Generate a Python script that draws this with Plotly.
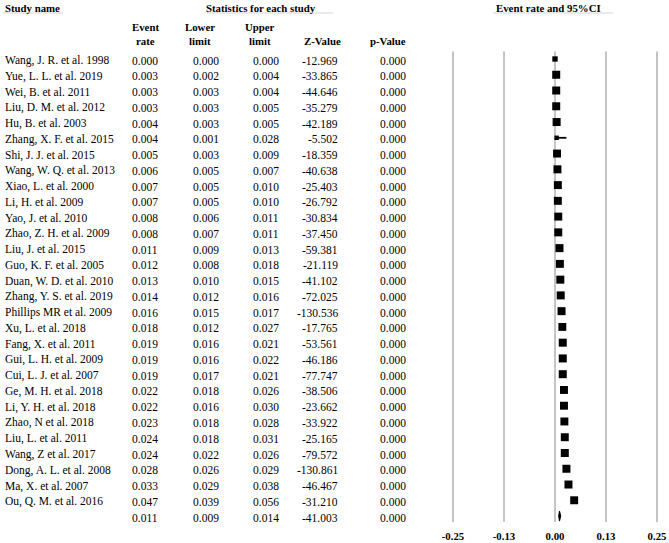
import plotly.graph_objects as go

studies = ["Wang, J. R. et al. 1998", "Yue, L. L. et al. 2019", "Wei, B. et al. 2011",
           "Liu, D. M. et al. 2012", "Hu, B. et al. 2003", "Zhang, X. F. et al. 2015",
           "Shi, J. J. et al. 2015", "Wang, W. Q. et al. 2013", "Xiao, L. et al. 2000",
           "Li, H. et al. 2009", "Yao, J. et al. 2010", "Zhao, Z. H. et al. 2009",
           "Liu, J. et al. 2015", "Guo, K. F. et al. 2005", "Duan, W. D. et al. 2010",
           "Zhang, Y. S. et al. 2019", "Phillips MR et al. 2009", "Xu, L. et al. 2018",
           "Fang, X. et al. 2011", "Gui, L. H. et al. 2009", "Cui, L. J. et al. 2007",
           "Ge, M. H. et al. 2018", "Li, Y. H. et al. 2018", "Zhao, N et al. 2018",
           "Liu, L. et al. 2011", "Wang, Z et al. 2017", "Dong, A. L. et al. 2008",
           "Ma, X. et al. 2007", "Ou, Q. M. et al. 2016"]
event_rate = [0.000, 0.003, 0.003, 0.003, 0.004, 0.004, 0.005, 0.006, 0.007, 0.007,
              0.008, 0.008, 0.011, 0.012, 0.013, 0.014, 0.016, 0.018, 0.019, 0.019,
              0.019, 0.022, 0.022, 0.023, 0.024, 0.024, 0.028, 0.033, 0.047]
lower_limit = [0.000, 0.002, 0.003, 0.003, 0.003, 0.001, 0.003, 0.005, 0.005, 0.005,
               0.006, 0.007, 0.009, 0.008, 0.010, 0.012, 0.015, 0.012, 0.016, 0.016,
               0.017, 0.018, 0.016, 0.018, 0.018, 0.022, 0.026, 0.029, 0.039]
upper_limit = [0.000, 0.004, 0.004, 0.005, 0.005, 0.028, 0.009, 0.007, 0.010, 0.010,
               0.011, 0.011, 0.013, 0.018, 0.015, 0.016, 0.017, 0.027, 0.021, 0.022,
               0.021, 0.026, 0.030, 0.028, 0.031, 0.026, 0.029, 0.038, 0.056]
z_value = [-12.969, -33.865, -44.646, -35.279, -42.189, -5.502, -18.359, -40.638, -25.403,
           -26.792, -30.834, -37.450, -59.381, -21.119, -41.102, -72.025, -130.536, -17.765,
           -53.561, -46.186, -77.747, -38.506, -23.662, -33.922, -25.165, -79.572, -130.861,
           -46.467, -31.210]
p_value = [0.000] * 29
rel_weight = [1.6, 3.55, 3.55, 3.55, 3.55, 1.1, 3.5, 3.55, 3.5, 3.5,
              3.5, 3.55, 3.55, 3.5, 3.55, 3.55, 3.55, 3.45, 3.55, 3.55,
              3.55, 3.5, 3.5, 3.5, 3.5, 3.55, 3.55, 3.55, 3.5]
summary = {"rate": 0.011, "lower": 0.009, "upper": 0.014, "z": -41.003, "p": 0.000}
tick_vals = [-0.25, -0.125, 0.0, 0.125, 0.25]
tick_text = ["-0.25", "-0.13", "0.00", "0.13", "0.25"]

W, H = 669, 543
FONT = "Liberation Serif, Times New Roman, serif"
ROW0, STEP = 59.0, 15.76       # pixel y of first row centre, row spacing
PLOT_BOTTOM = 522
X0_PX, PX_PER_UNIT = 555.0, 408.0
DOM_LEFT = 440
HDR_SIZE = 10.8

n = len(studies)
rows = list(range(n))
sum_row = n

def px_to_row(py):
    return (py - ROW0) / STEP

fig = go.Figure()

sizes = [8 * (w / 3.55) ** 0.5 for w in rel_weight]
fig.add_trace(go.Scatter(
    x=event_rate, y=rows, mode="markers",
    marker=dict(symbol="square", size=sizes, color="black", opacity=1, line=dict(width=0)),
    error_x=dict(type="data", symmetric=False,
                 array=[u - e for u, e in zip(upper_limit, event_rate)],
                 arrayminus=[e - l for e, l in zip(event_rate, lower_limit)],
                 color="black", thickness=1.8, width=0),
    hoverinfo="skip", showlegend=False))

h = 0.32
fig.add_trace(go.Scatter(
    x=[summary["lower"], summary["rate"], summary["upper"], summary["rate"], summary["lower"]],
    y=[sum_row, sum_row - h, sum_row, sum_row + h, sum_row],
    mode="lines", fill="toself", fillcolor="black", line=dict(color="black", width=1),
    hoverinfo="skip", showlegend=False))

for tv in tick_vals:
    fig.add_shape(type="line", xref="x", yref="y", x0=tv, x1=tv,
                  y0=px_to_row(51.5), y1=px_to_row(PLOT_BOTTOM),
                  line=dict(color="#8a8a8a", width=1), layer="below")

ann = []
def txt(x_px, y, s, anchor="left", bold=False, size=11.5, yshift=-1.5):
    ann.append(dict(x=x_px / W, xref="paper", y=y, yref="y", text=("<b>%s</b>" % s) if bold else s,
                    xanchor=anchor, yanchor="middle", showarrow=False, yshift=yshift,
                    font=dict(family=FONT, size=size, color="black")))

def hdr(x_px, y_px, s, anchor="center"):
    txt(x_px, px_to_row(y_px), s, anchor=anchor, bold=True, size=HDR_SIZE, yshift=0)

hdr(3, 7.5, "Study name", "left")
hdr(261, 7.5, "Statistics for each study")
hdr(548, 7.5, "Event rate and 95%CI")
hdr(145, 26.5, "Event"); hdr(145, 40.5, "rate")
hdr(200, 26.5, "Lower"); hdr(200, 40.5, "limit")
hdr(260, 26.5, "Upper"); hdr(260, 40.5, "limit")
hdr(343, 40.5, "Z-Value", "right")
hdr(408, 40.5, "p-Value", "right")

for r, (s, e, lo, up, z, p) in enumerate(zip(studies, event_rate, lower_limit, upper_limit, z_value, p_value)):
    txt(3, r, s, "left")
    txt(145, r, "%.3f" % e, "center")
    txt(206, r, "%.3f" % lo, "center")
    txt(266, r, "%.3f" % up, "center")
    txt(340, r, "%.3f" % z, "right")
    txt(408, r, "%.3f" % p, "right")

txt(145, sum_row, "%.3f" % summary["rate"], "center")
txt(206, sum_row, "%.3f" % summary["lower"], "center")
txt(266, sum_row, "%.3f" % summary["upper"], "center")
txt(340, sum_row, "%.3f" % summary["z"], "right")
txt(408, sum_row, "%.3f" % summary["p"], "right")

for x0, x1 in [(3, 63), (207, 333), (493, 613)]:
    fig.add_shape(type="line", xref="paper", yref="y", x0=x0 / W, x1=x1 / W,
                  y0=px_to_row(13), y1=px_to_row(13),
                  line=dict(color="#d4d4d4", width=1))

fig.update_layout(
    width=W, height=H, margin=dict(l=0, r=0, t=0, b=0),
    paper_bgcolor="white", plot_bgcolor="white",
    annotations=ann, showlegend=False,
    font=dict(family=FONT, color="black"),
    xaxis=dict(domain=[DOM_LEFT / W, 1],
               range=[(DOM_LEFT - X0_PX) / PX_PER_UNIT, (W - X0_PX) / PX_PER_UNIT],
               tickvals=tick_vals, ticktext=["<b>%s</b>" % t for t in tick_text],
               tickfont=dict(family=FONT, size=HDR_SIZE, color="black"),
               showgrid=False, zeroline=False, showline=False,
               ticks="outside", ticklen=4, tickcolor="rgba(0,0,0,0)"),
    yaxis=dict(domain=[(H - PLOT_BOTTOM) / H, 1],
               range=[px_to_row(PLOT_BOTTOM), px_to_row(0)],
               showgrid=False, zeroline=False, showline=False, showticklabels=False,
               ticks=""),
)

fig.write_html("out.html", config={"displayModeBar": False},
               post_script="document.body.style.margin='0px';document.body.style.overflow='hidden';")
